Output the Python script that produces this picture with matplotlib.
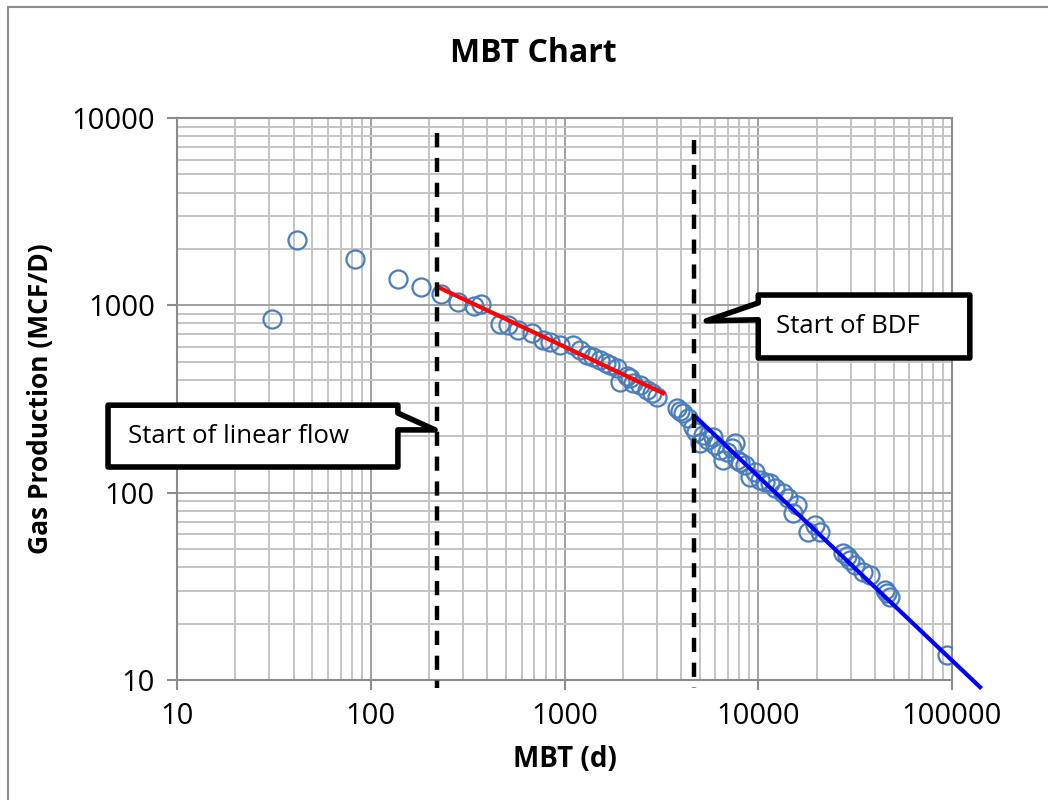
import matplotlib
matplotlib.use("Agg")
import matplotlib.pyplot as plt
from matplotlib.patches import Polygon, Rectangle
from matplotlib.ticker import LogLocator, FixedLocator, NullFormatter

plt.rcParams['font.family'] = ['Open Sans', 'DejaVu Sans']

# === data ===
mbt = [30.9, 41.6, 83, 138, 182, 231, 282, 341, 371, 465, 511, 575, 680, 774,
       841, 948, 1107, 1202, 1306, 1403, 1525, 1637, 1718, 1866, 1933, 2102,
       2178, 2258, 2455, 2667, 2830, 3001, 3808, 3948, 4090, 4336, 4604, 4773,
       5001, 5185, 5505, 5838, 5980, 6348, 6580, 6900, 7325, 7590, 7770, 8050,
       8545, 9060, 9617, 10210, 10830, 11500, 12190, 13420, 14250, 15110,
       15850, 18070, 19630, 20840, 27370, 28710, 29760, 31570, 34750, 37760,
       45120, 46220, 47900, 94190]
gas = [845, 2233, 1768, 1380, 1253, 1148, 1042, 991, 1016, 794, 785, 738, 711,
       653, 637, 614, 614, 577, 543, 530, 511, 492, 480, 463, 389, 419, 409,
       385, 375, 353, 340, 324, 283, 273, 266, 250, 224, 211, 184, 203, 191,
       198, 180, 169, 149, 165, 173, 184, 149, 146, 140, 121, 129, 117, 114,
       112, 106, 99.5, 93.6, 77.8, 85.9, 61.6, 67.1, 61.6, 47.6, 45.9, 43.7,
       41.0, 37.6, 36.3, 30.2, 29.1, 27.7, 13.6]

# fitted straight lines
linear_fit_x = [228, 3222]
linear_fit_y = [1236, 340]
bdf_fit_x = [4830, 139600]
bdf_fit_y = [250, 9.16]

# flow regime markers (MBT, days)
linear_start = 220
bdf_start = 4677
marker_top = [8318, 7630]
marker_bottom = 9.1

x_ticks = [10, 100, 1000, 10000, 100000]
y_ticks = [10, 100, 1000, 10000]

fig = plt.figure(figsize=(10.48, 8), dpi=100)
ax = fig.add_axes([177 / 1048, 120 / 800, 775 / 1048, 562 / 800])

# chart border (runs off the right / bottom edge like the source)
fig.patches.append(Rectangle((8 / 1048, -0.05), 1.1, 1 - 7 / 800 + 0.05,
                             transform=fig.transFigure, fill=False,
                             edgecolor='#8c8c8c', lw=1.5))

ax.set_xscale('log')
ax.set_yscale('log')
ax.set_xlim(10, 100000)
ax.set_ylim(10, 10000)

ax.xaxis.set_major_locator(FixedLocator(x_ticks))
ax.yaxis.set_major_locator(FixedLocator(y_ticks))
ax.set_xticklabels([str(v) for v in x_ticks])
ax.set_yticklabels([str(v) for v in y_ticks])
ax.xaxis.set_minor_locator(LogLocator(base=10, subs=range(2, 10), numticks=20))
ax.yaxis.set_minor_locator(LogLocator(base=10, subs=range(2, 10), numticks=20))
ax.xaxis.set_minor_formatter(NullFormatter())
ax.yaxis.set_minor_formatter(NullFormatter())

ax.grid(which='major', color='#a0a0a0', lw=1.4)
ax.grid(which='minor', color='#c4c4c4', lw=1.4)
ax.set_axisbelow(True)
for s in ax.spines.values():
    s.set_color('#8c8c8c')
    s.set_linewidth(1.5)
ax.tick_params(which='major', length=7, width=1.5, color='#8c8c8c',
               labelsize=21, pad=9)
ax.tick_params(which='minor', length=0)

# data
ax.plot(mbt, gas, 'o', ms=13, mfc='none', mec='#4a7ebb', mew=1.6, zorder=3)

# fits
ax.plot(linear_fit_x, linear_fit_y, color='#ff0000', lw=3, zorder=4)
ax.plot(bdf_fit_x, bdf_fit_y, color='#0000ff', lw=3, zorder=4, clip_on=False)

# dashed regime lines
for xv, top in zip([linear_start, bdf_start], marker_top):
    ax.plot([xv, xv], [top, marker_bottom], color='black', lw=3.2,
            dashes=(3.2, 2.4), zorder=5, clip_on=False)


def callout(box, notch, tip, side, text, text_x):
    x0, x1, y0, y1 = box
    n0, n1 = notch
    if side == 'right':
        pts = [(x0, y1), (x1, y1), (x1, n0), tip, (x1, n1), (x1, y0), (x0, y0)]
    else:
        pts = [(x0, y1), (x1, y1), (x1, y0), (x0, y0), (x0, n1), tip, (x0, n0)]
    poly = Polygon(pts, closed=True, transform=ax.transAxes, facecolor='white',
                   edgecolor='black', lw=4, joinstyle='round', clip_on=False,
                   zorder=6)
    ax.add_patch(poly)
    ax.text(text_x, (y0 + y1) / 2, text, transform=ax.transAxes, fontsize=18.5,
            ha='left', va='center', zorder=7, clip_on=False)


callout((-0.089, 0.285, 0.379, 0.489), (0.475, 0.445), (0.333, 0.445), 'right',
        'Start of linear flow', -0.063)
callout((0.750, 1.023, 0.573, 0.685), (0.671, 0.641), (0.683, 0.639), 'left',
        'Start of BDF', 0.773)

fig.text(533 / 1048, 1 - 53 / 800, 'MBT Chart', ha='center', va='center',
         fontsize=23, fontweight='bold')
ax.set_xlabel('MBT (d)', fontsize=20, fontweight='bold', labelpad=10)
ax.set_ylabel('Gas Production (MCF/D)', fontsize=19, fontweight='bold',
              labelpad=12)

fig.savefig('out.png', dpi=100)
